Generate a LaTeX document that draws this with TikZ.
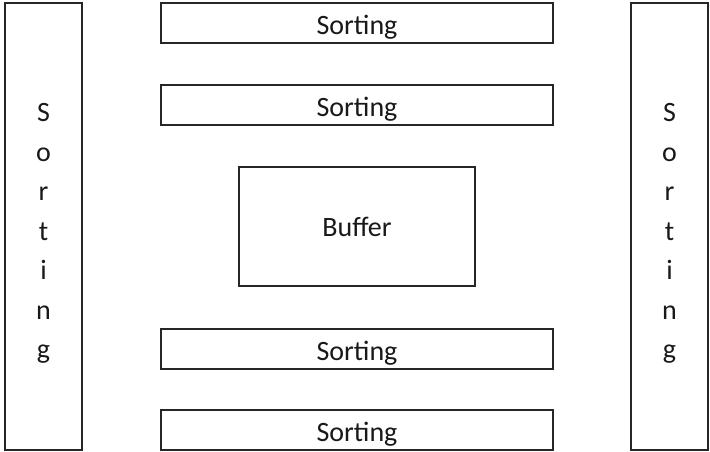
\documentclass[tikz,border=0pt]{standalone}
\usepackage{fontspec}
\setmainfont{Carlito}
\begin{document}
\begin{tikzpicture}[x=1pt,y=-1pt,
  lbl/.style={inner sep=0pt, font=\fontsize{28}{39.5}\selectfont, text=black!90},
  box/.style={lbl, draw=black!85, line width=2pt, fill=white},
  bar/.style={box, minimum width=392pt, minimum height=40pt,
    text height=23pt, text depth=0pt},
  column/.style={box, minimum width=77pt, minimum height=446.5pt}]
  \useasboundingbox[fill=white] (0,0) rectangle (710,452);

  % side columns with stacked letters
  \node[column] (left)  at (43.5,226.75)  {};
  \node[column] (right) at (669.5,226.75) {};
  \node[lbl, align=center] (lefttext)  at (43.5,233.5)  {S\\o\\r\\t\\i\\n\\g};
  \node[lbl, align=center] (righttext) at (669.5,233.5) {S\\o\\r\\t\\i\\n\\g};

  % horizontal bars
  \node[bar] (s1) at (357,23.5)  {Sorting};
  \node[bar] (s2) at (357,105)   {Sorting};
  \node[bar] (s3) at (357,348.5) {Sorting};
  \node[bar] (s4) at (357,430)   {Sorting};

  % central buffer
  \node[box, minimum width=236pt, minimum height=119pt] (buf) at (357,226.5) {Buffer};
\end{tikzpicture}
\end{document}
